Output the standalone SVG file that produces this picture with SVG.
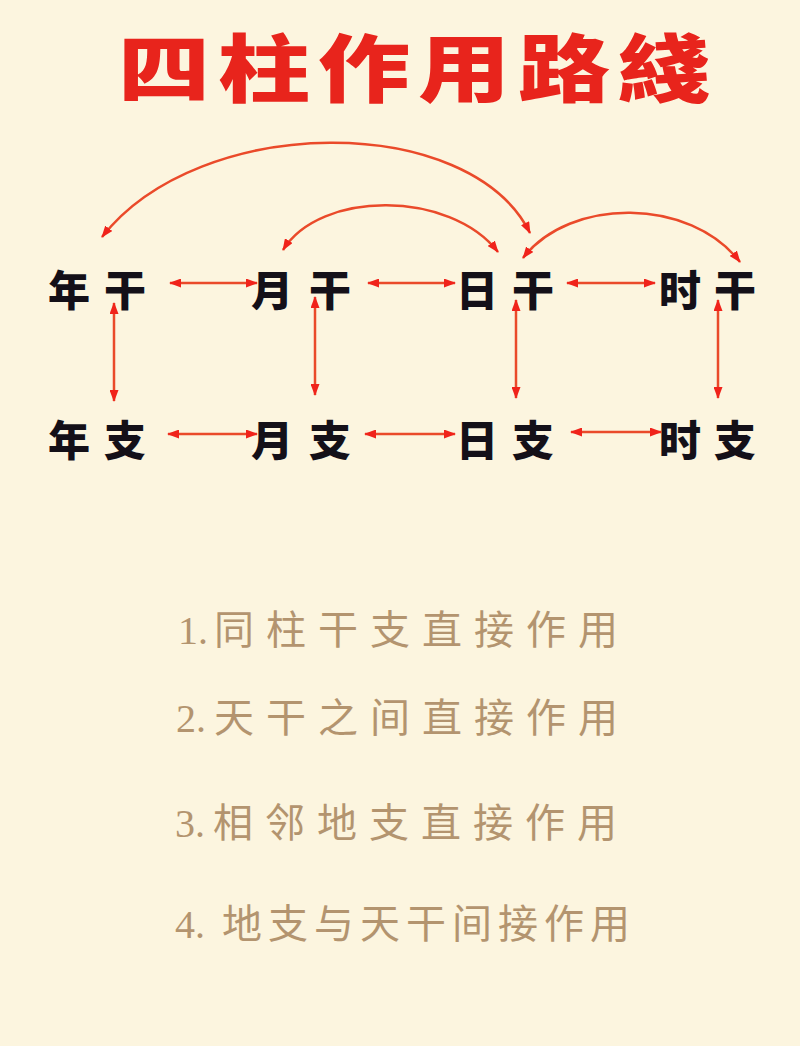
<svg xmlns="http://www.w3.org/2000/svg" width="800" height="1046" viewBox="0 0 800 1046">
<defs>
<marker id="ah" viewBox="0 0 12 9" markerWidth="12" markerHeight="9" refX="11" refY="4.5" orient="auto-start-reverse" markerUnits="userSpaceOnUse">
<path d="M0,0 L12,4.5 L0,9 z" fill="#f0231b"/>
</marker>
</defs>
<style>
.node{font-family:"Noto Sans CJK SC","Noto Sans CJK JP",sans-serif;font-weight:900;font-size:42px;fill:#141018;text-anchor:middle}
.link{fill:none;stroke:#ea4a2a;stroke-width:2.5;marker-start:url(#ah);marker-end:url(#ah)}
.item{font-family:"Liberation Serif","Noto Sans CJK SC",serif;font-size:40px;fill:#b3946f}
.itemc{font-family:"Noto Sans CJK SC","Noto Sans CJK JP",sans-serif;font-weight:400}
.title{font-family:"Noto Sans CJK SC","Noto Sans CJK JP",sans-serif;font-weight:900;font-size:92px;fill:#e8241c;letter-spacing:8px}
</style>
<rect width="800" height="1046" fill="#fcf5df"/>
<g id="title"><text class="title" transform="translate(118,96) scale(1,0.8)">四柱作用路綫</text></g>

<g id="connectors">
<path class="link" d="M102,237 C200,112 470,112 530,233"/>
<path class="link" d="M283,250 C320,190 450,190 498,252"/>
<path class="link" d="M523,258 C570,197 690,197 740,262"/>
<line class="link" x1="170" y1="283" x2="257" y2="283"/>
<line class="link" x1="368" y1="283" x2="455" y2="283"/>
<line class="link" x1="567" y1="283" x2="655" y2="283"/>
<line class="link" x1="168" y1="434" x2="257" y2="434"/>
<line class="link" x1="365" y1="434" x2="455" y2="434"/>
<line class="link" x1="571" y1="432" x2="661" y2="432"/>
<line class="link" x1="114" y1="303" x2="114" y2="401"/>
<line class="link" x1="315" y1="297" x2="315" y2="395"/>
<line class="link" x1="516" y1="300" x2="516" y2="398"/>
<line class="link" x1="718" y1="300" x2="718" y2="398"/>
</g>

<g id="niangan"><text class="node" x="69 125" y="306">年干</text></g>
<g id="yuegan"><text class="node" x="272 330" y="306">月干</text></g>
<g id="rigan"><text class="node" x="477 533" y="306">日干</text></g>
<g id="shigan"><text class="node" x="680 735" y="306">时干</text></g>
<g id="nianzhi"><text class="node" x="69 125" y="456">年支</text></g>
<g id="yuezhi"><text class="node" x="272 330" y="456">月支</text></g>
<g id="rizhi"><text class="node" x="477 533" y="456">日支</text></g>
<g id="shizhi"><text class="node" x="680 735" y="456">时支</text></g>

<g id="list">
<text class="item" x="178" y="644">1.<tspan class="itemc" x="214" letter-spacing="12">同柱干支直接作用</tspan></text>
<text class="item" x="176" y="732">2.<tspan class="itemc" x="214" letter-spacing="12">天干之间直接作用</tspan></text>
<text class="item" x="175" y="837">3.<tspan class="itemc" x="213" letter-spacing="12">相邻地支直接作用</tspan></text>
<text class="item" x="175" y="938">4.<tspan class="itemc" x="222" letter-spacing="6">地支与天干间接作用</tspan></text>
</g>
</svg>
